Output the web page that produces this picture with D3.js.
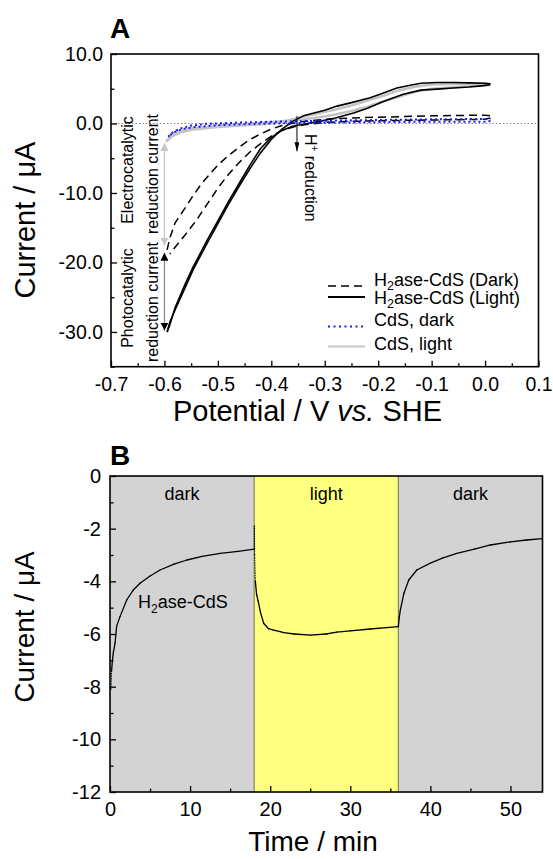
<!DOCTYPE html>
<html><head><meta charset="utf-8">
<script src="https://cdn.jsdelivr.net/npm/d3@7"></script>
<style>body{margin:0;background:#fff}svg{display:block}text{font-family:"Liberation Sans",Arial,sans-serif;fill:#000}</style>
</head><body><svg id="c" width="553" height="859"></svg>
<script>
// ---------- Panel A data (Potential V, Current µA) ----------
const potentialTicks = [-0.7,-0.6,-0.5,-0.4,-0.3,-0.2,-0.1,0.0,0.1];
const potentialTickLabels = ["-0.7","-0.6","-0.5","-0.4","-0.3","-0.2","-0.1","0.0","0.1"];
const potentialMinor = [-0.65,-0.55,-0.45,-0.35,-0.25,-0.15,-0.05,0.05];
const currentATicks = [10,0,-10,-20,-30];
const currentATickLabels = ["10.0","0.0","-10.0","-20.0","-30.0"];
const currentAMinor = [5,-5,-15,-25,-35];

const h2aseDarkUpper = [[-0.595,-18.2],[-0.59,-16.5],[-0.58,-14.3],[-0.56,-12.0],[-0.55,-10.8],[-0.53,-8.6],[-0.5,-6.0],[-0.48,-4.6],[-0.46,-3.4],[-0.44,-2.3],[-0.42,-1.5],[-0.4,-0.8],[-0.38,-0.3],[-0.35,0.2],[-0.3,0.6],[-0.25,0.8],[-0.2,0.9],[-0.15,1.0],[-0.1,1.1],[-0.05,1.15],[0.0,1.2],[0.01,1.1]];
const h2aseDarkLower = [[0.01,0.8],[0.0,0.6],[-0.05,0.55],[-0.1,0.5],[-0.15,0.45],[-0.2,0.4],[-0.25,0.3],[-0.3,0.15],[-0.35,-0.3],[-0.38,-1.0],[-0.4,-1.8],[-0.42,-2.9],[-0.44,-4.1],[-0.46,-5.6],[-0.48,-7.3],[-0.5,-9.3],[-0.52,-11.6],[-0.54,-13.9],[-0.56,-15.9],[-0.58,-17.8],[-0.59,-18.8]];
const h2aseLightUpper = [[-0.595,-30.0],[-0.59,-28.6],[-0.58,-26.8],[-0.56,-23.4],[-0.546,-21.0],[-0.52,-17.2],[-0.5,-14.4],[-0.48,-11.6],[-0.46,-9.0],[-0.44,-6.5],[-0.42,-4.2],[-0.4,-2.3],[-0.38,-0.8],[-0.36,0.3],[-0.34,1.1],[-0.3,1.9],[-0.277,2.5],[-0.25,3.0],[-0.215,3.7],[-0.19,4.4],[-0.165,5.1],[-0.14,5.5],[-0.12,5.8],[-0.09,5.9],[-0.06,5.9],[-0.03,5.85],[0.0,5.8],[0.01,5.7]];
const h2aseLightLower = [[0.01,5.6],[-0.003,5.45],[-0.03,5.25],[-0.06,5.1],[-0.09,4.95],[-0.12,4.8],[-0.153,4.2],[-0.175,3.6],[-0.196,3.0],[-0.22,2.2],[-0.246,1.5],[-0.28,0.8],[-0.31,0.3],[-0.34,-0.1],[-0.36,-0.4],[-0.38,-1.0],[-0.4,-2.0],[-0.42,-3.6],[-0.44,-6.0],[-0.46,-8.6],[-0.48,-11.2],[-0.5,-14.0],[-0.52,-16.8],[-0.546,-20.6],[-0.56,-22.9],[-0.58,-26.5],[-0.59,-29.0],[-0.595,-30.0]];
const cdsDarkUpper = [[-0.593,-1.9],[-0.585,-1.3],[-0.57,-0.7],[-0.55,-0.3],[-0.52,-0.05],[-0.45,0.15],[-0.4,0.25],[-0.3,0.4],[-0.2,0.5],[-0.1,0.6],[0.0,0.65],[0.01,0.55]];
const cdsDarkLower = [[0.01,0.35],[0.0,0.25],[-0.1,0.25],[-0.2,0.2],[-0.3,0.1],[-0.4,0.0],[-0.45,-0.1],[-0.5,-0.25],[-0.54,-0.5],[-0.56,-0.7],[-0.575,-1.0],[-0.585,-1.4],[-0.593,-1.9]];
const cdsLightFwd = [[-0.597,-2.6],[-0.585,-1.8],[-0.57,-1.3],[-0.55,-0.9],[-0.5,-0.5],[-0.45,-0.25],[-0.4,0.0],[-0.37,0.4],[-0.346,0.9],[-0.315,1.4],[-0.28,2.0],[-0.25,2.6],[-0.215,3.4],[-0.19,4.0],[-0.16,4.8],[-0.13,5.3],[-0.1,5.6],[-0.06,5.7],[-0.03,5.7],[0.0,5.7],[0.01,5.6]];
const cdsLightRev = [[0.01,5.5],[-0.03,5.35],[-0.06,5.2],[-0.1,5.0],[-0.13,4.6],[-0.16,3.9],[-0.19,3.2],[-0.22,2.4],[-0.25,1.8],[-0.28,1.3],[-0.31,0.9],[-0.35,0.5],[-0.4,0.2],[-0.45,-0.1],[-0.5,-0.35],[-0.55,-0.7],[-0.57,-1.1],[-0.585,-1.6],[-0.597,-2.6]];

// annotation arrows (data coordinates)
const electroArrow = {v:-0.6, from:-2.8, to:-17.6};
const photoArrow = {v:-0.6, from:-18.6, to:-29.8};
const hPlusArrow = {v:-0.352, from:1.05, to:-4.0};

const legendLabels = ["H2ase-CdS (Dark)","H2ase-CdS (Light)","CdS, dark","CdS, light"];

// ---------- Panel B data (time min, current µA) ----------
const timeTicks = [0,10,20,30,40,50];
const timeMinor = [5,15,25,35,45];
const currentBTicks = [0,-2,-4,-6,-8,-10,-12];
const currentBTickLabels = ["0","-2","-4","-6","-8","-10","-12"];
const currentBMinor = [-1,-3,-5,-7,-9,-11];
const phases = [{label:"dark",start:0,end:18},{label:"light",start:18,end:36},{label:"dark",start:36,end:54}];
const timeB = [0.12,0.2,0.3,0.42,0.63,0.83,1.25,2.1,2.9,3.75,5,6.25,8,9.6,11.5,13.75,16,18.0,
  18.02,18.06,18.15,18.3,18.5,18.8,19.2,19.8,20.4,21.25,21.7,23,25,27,28.3,30,32.5,34.5,36.0,
  36.1,36.25,36.7,37.3,38.3,40,41.5,43.3,45.5,47.5,50,52,54];
const currentB = [-8.1,-7.4,-7.0,-6.7,-6.35,-5.7,-5.34,-4.7,-4.33,-4.07,-3.8,-3.57,-3.35,-3.19,-3.05,-2.94,-2.86,-2.78,
  -1.9,-3.0,-4.0,-4.5,-4.75,-5.2,-5.6,-5.8,-5.85,-5.91,-5.95,-6.0,-6.04,-6.0,-5.93,-5.88,-5.81,-5.76,-5.72,
  -5.4,-5.09,-4.45,-3.95,-3.57,-3.31,-3.12,-2.94,-2.78,-2.62,-2.5,-2.43,-2.38];

// ---------- drawing ----------
const svg = d3.select("#c");
const FONT = '"Liberation Sans",Arial,sans-serif';

function styleAxis(g, fs){
  g.select(".domain").remove();
  g.selectAll(".tick line").attr("stroke","#000").attr("stroke-width",1.3);
  g.selectAll(".tick text").attr("font-size",fs).attr("font-family",FONT).attr("fill","#000");
}

// ===== Panel A =====
const A = {l:111, t:54, r:538.5, b:366.7};
const xA = d3.scaleLinear().domain([-0.7,0.1]).range([A.l,A.r]);
const yA = d3.scaleLinear().domain([-35,10]).range([A.b,A.t]);

const gA = svg.append("g");
gA.append("line").attr("x1",xA(-0.7)).attr("x2",xA(0.1)).attr("y1",yA(0)).attr("y2",yA(0))
  .attr("stroke","#888").attr("stroke-width",1).attr("stroke-dasharray","1.5,2");

const lineA = d3.line().x(d=>xA(d[0])).y(d=>yA(d[1]));
function drawA(data, stroke, width, dash){
  const p = gA.append("path").attr("d",lineA(data)).attr("fill","none").attr("stroke",stroke)
    .attr("stroke-width",width).attr("stroke-linejoin","round");
  if(dash) p.attr("stroke-dasharray",dash);
}
drawA(cdsLightFwd,"#c4c4c4",2.6);
drawA(cdsLightRev,"#c4c4c4",2.6);
drawA(h2aseLightUpper,"#000",1.6);
drawA(h2aseLightLower,"#000",1.6);
drawA(h2aseDarkUpper,"#000",1.5,"8,5");
drawA(h2aseDarkLower,"#000",1.5,"8,5");
drawA(cdsDarkUpper,"#1a1aff",2,"2,3");
drawA(cdsDarkLower,"#1a1aff",2,"2,3");

// arrows
const defs = svg.append("defs");
function marker(id, color, w, h){
  defs.append("marker").attr("id",id).attr("viewBox",`0 0 ${h} ${w}`).attr("refX",h).attr("refY",w/2)
    .attr("markerWidth",h).attr("markerHeight",w).attr("markerUnits","userSpaceOnUse")
    .attr("orient","auto-start-reverse")
    .append("path").attr("d",`M0,0L${h},${w/2}L0,${w}Z`).attr("fill",color);
}
marker("mGray","#c8c8c8",8,8);
marker("mBlack","#000",8,8);
marker("mSmall","#000",5,9);
gA.append("line").attr("x1",xA(electroArrow.v)).attr("x2",xA(electroArrow.v))
  .attr("y1",yA(electroArrow.from)).attr("y2",yA(electroArrow.to))
  .attr("stroke","#c8c8c8").attr("stroke-width",1.3)
  .attr("marker-start","url(#mGray)").attr("marker-end","url(#mGray)");
gA.append("line").attr("x1",xA(photoArrow.v)).attr("x2",xA(photoArrow.v))
  .attr("y1",yA(photoArrow.from)).attr("y2",yA(photoArrow.to))
  .attr("stroke","#8a8a8a").attr("stroke-width",1.3)
  .attr("marker-start","url(#mBlack)").attr("marker-end","url(#mBlack)");
gA.append("line").attr("x1",xA(hPlusArrow.v)).attr("x2",xA(hPlusArrow.v))
  .attr("y1",yA(hPlusArrow.from)).attr("y2",yA(hPlusArrow.to))
  .attr("stroke","#000").attr("stroke-width",1)
  .attr("marker-end","url(#mSmall)");

function rotText(x,y,ang,txt,fs,anchor){
  return gA.append("text").attr("transform",`translate(${x},${y}) rotate(${ang})`)
    .attr("text-anchor",anchor||"middle").attr("font-size",fs).text(txt);
}
rotText(133,170,-90,"Electrocatalytic",16);
rotText(158,174,-90,"reduction current",16);
rotText(133,298,-90,"Photocatalytic",16);
rotText(158,302,-90,"reduction current",16);
const hp = gA.append("text").attr("transform",`translate(305,134) rotate(90)`).attr("font-size",16);
hp.append("tspan").text("H");
hp.append("tspan").attr("dy",-6).attr("font-size",10).text("+");
hp.append("tspan").attr("dy",6).text(" reduction");

// axes
const axAx = svg.append("g").attr("transform",`translate(0,${A.b})`)
  .call(d3.axisBottom(xA).tickValues(potentialTicks).tickSize(-6).tickPadding(10)
    .tickFormat((d,i)=>potentialTickLabels[i]));
styleAxis(axAx,19.5);
const axAxm = svg.append("g").attr("transform",`translate(0,${A.b})`)
  .call(d3.axisBottom(xA).tickValues(potentialMinor).tickSize(-3.5).tickFormat(""));
styleAxis(axAxm,0);
const axAy = svg.append("g").attr("transform",`translate(${A.l},0)`)
  .call(d3.axisLeft(yA).tickValues(currentATicks).tickSize(-6).tickPadding(8)
    .tickFormat((d,i)=>currentATickLabels[i]));
styleAxis(axAy,19.5);
const axAym = svg.append("g").attr("transform",`translate(${A.l},0)`)
  .call(d3.axisLeft(yA).tickValues(currentAMinor).tickSize(-3.5).tickFormat(""));
styleAxis(axAym,0);
svg.append("rect").attr("x",A.l).attr("y",A.t).attr("width",A.r-A.l).attr("height",A.b-A.t)
  .attr("fill","none").attr("stroke","#000").attr("stroke-width",1.6);

// legend
const legY = [{text:285.5,line:286},{text:304,line:297},{text:326,line:326.5},{text:349.5,line:346.5}];
const legStyles = [
  {stroke:"#000",w:1.5,dash:"8,5"},
  {stroke:"#000",w:2,dash:null},
  {stroke:"#1a1aff",w:2,dash:"2,3.5"},
  {stroke:"#c8c8c8",w:2,dash:null}
];
legendLabels.forEach((lab,i)=>{
  const l = svg.append("line").attr("x1",328).attr("x2",365).attr("y1",legY[i].line).attr("y2",legY[i].line)
    .attr("stroke",legStyles[i].stroke).attr("stroke-width",legStyles[i].w);
  if(legStyles[i].dash) l.attr("stroke-dasharray",legStyles[i].dash);
  const t = svg.append("text").attr("x",374).attr("y",legY[i].text).attr("font-size",18);
  if(lab.startsWith("H2")){
    t.append("tspan").text("H");
    t.append("tspan").attr("dy",4).attr("font-size",12.5).text("2");
    t.append("tspan").attr("dy",-4).text(lab.slice(2));
  } else t.text(lab);
});

// titles A
svg.append("text").attr("x",110).attr("y",38).attr("font-size",28).attr("font-weight","bold").text("A");
svg.append("text").attr("transform","translate(35,220) rotate(-90)").attr("text-anchor","middle")
  .attr("font-size",29).text("Current / μA");
const xl = svg.append("text").attr("x",307.5).attr("y",421).attr("text-anchor","middle").attr("font-size",29);
xl.append("tspan").text("Potential / V ");
xl.append("tspan").attr("font-style","italic").text("vs.");
xl.append("tspan").text(" SHE");

// ===== Panel B =====
const B = {l:110, t:476, r:542.5, b:792};
const xB = d3.scaleLinear().domain([0,54]).range([B.l,B.r]);
const yB = d3.scaleLinear().domain([-12,0]).range([B.b,B.t]);
const gB = svg.append("g");
gB.selectAll("rect.phase").data(phases).join("rect").attr("class","phase")
  .attr("x",d=>xB(d.start)).attr("width",d=>xB(d.end)-xB(d.start))
  .attr("y",B.t).attr("height",B.b-B.t)
  .attr("fill",d=>d.label==="light"?"#ffff80":"#d3d3d3");
gB.selectAll("line.bound").data([phases[1].start,phases[1].end]).join("line").attr("class","bound")
  .attr("x1",d=>xB(d)).attr("x2",d=>xB(d)).attr("y1",B.t).attr("y2",B.b)
  .attr("stroke","#7d7d55").attr("stroke-width",1.1);
gB.selectAll("text.ph").data(phases).join("text").attr("class","ph")
  .attr("x",d=>xB((d.start+d.end)/2)).attr("y",500).attr("text-anchor","middle")
  .attr("font-size",18).text(d=>d.label);
const ptsB = timeB.map((t,i)=>[t,currentB[i]]);
for(let i=0;i<ptsB.length-1;i++){
  const a=ptsB[i], b=ptsB[i+1];
  const steep = Math.abs((b[1]-a[1])/(b[0]-a[0])) > 8;
  const seg = gB.append("line").attr("x1",xB(a[0])).attr("y1",yB(a[1])).attr("x2",xB(b[0])).attr("y2",yB(b[1]))
    .attr("stroke","#000").attr("stroke-linecap","round");
  if(steep) seg.attr("stroke-width",0.9).attr("stroke-dasharray","1,1.5");
  else seg.attr("stroke-width",1.3);
}
const hl = gB.append("text").attr("x",138).attr("y",608).attr("font-size",18);
hl.append("tspan").text("H");
hl.append("tspan").attr("dy",5).attr("font-size",12).text("2");
hl.append("tspan").attr("dy",-5).text("ase-CdS");

const axBx = svg.append("g").attr("transform",`translate(0,${B.b})`)
  .call(d3.axisBottom(xB).tickValues(timeTicks).tickSize(-6).tickPadding(10).tickFormat(d=>String(d)));
styleAxis(axBx,20);
const axBxm = svg.append("g").attr("transform",`translate(0,${B.b})`)
  .call(d3.axisBottom(xB).tickValues(timeMinor).tickSize(-3.5).tickFormat(""));
styleAxis(axBxm,0);
const axBy = svg.append("g").attr("transform",`translate(${B.l},0)`)
  .call(d3.axisLeft(yB).tickValues(currentBTicks).tickSize(-6).tickPadding(9)
    .tickFormat((d,i)=>currentBTickLabels[i]));
styleAxis(axBy,20);
const axBym = svg.append("g").attr("transform",`translate(${B.l},0)`)
  .call(d3.axisLeft(yB).tickValues(currentBMinor).tickSize(-3.5).tickFormat(""));
styleAxis(axBym,0);
svg.append("rect").attr("x",B.l).attr("y",B.t).attr("width",B.r-B.l).attr("height",B.b-B.t)
  .attr("fill","none").attr("stroke","#000").attr("stroke-width",1.6);

svg.append("text").attr("x",110).attr("y",465).attr("font-size",28).attr("font-weight","bold").text("B");
svg.append("text").attr("transform","translate(34,627) rotate(-90)").attr("text-anchor","middle")
  .attr("font-size",28).text("Current / μA");
svg.append("text").attr("x",313).attr("y",851).attr("text-anchor","middle")
  .attr("font-size",28).text("Time / min");
</script></body></html>
